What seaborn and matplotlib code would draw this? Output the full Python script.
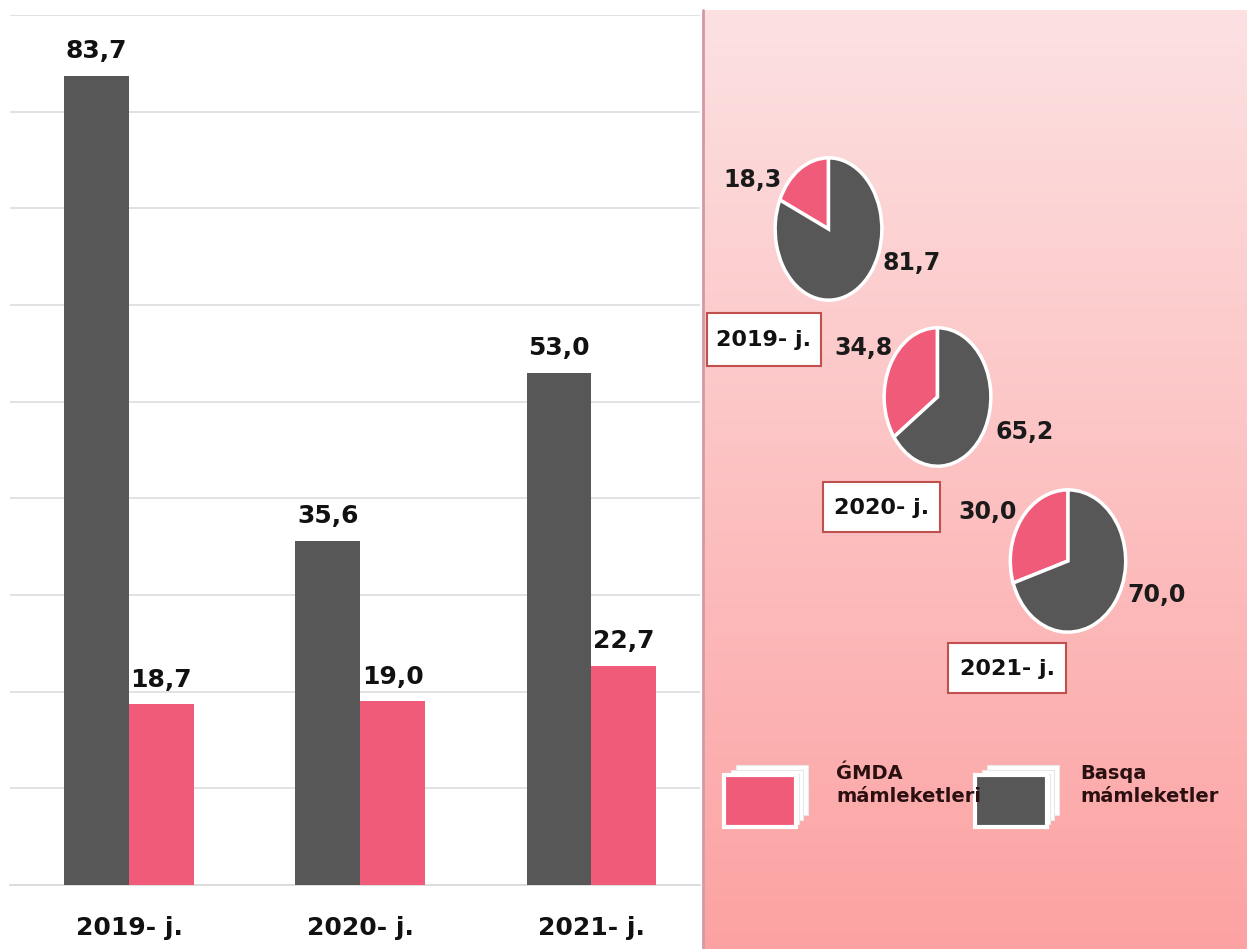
import numpy as np
import pandas as pd
import matplotlib.pyplot as plt
import matplotlib.patches as mpatches
import seaborn as sns

# data
years = ["2019- j.", "2020- j.", "2021- j."]
other_vals = [83.7, 35.6, 53.0]      # Basqa mámleketler
cis_vals = [18.7, 19.0, 22.7]        # ǴMDA mámleketleri
pie_cis = [18.3, 34.8, 30.0]         # share, %
pie_other = [81.7, 65.2, 70.0]

DARK = "#575757"
PINK = "#f05b79"
FONT = ["Liberation Sans Narrow", "DejaVu Sans Condensed", "DejaVu Sans"]

sns.set_theme(style="white")
plt.rcParams["font.family"] = FONT
plt.rcParams["font.weight"] = "bold"

W, H = 1247, 949
fig = plt.figure(figsize=(W / 100, H / 100), dpi=100)

# background overlay in pixel coordinates (pink gradient panel)
bg = fig.add_axes([0, 0, 1, 1], zorder=0)
bg.set_xlim(0, W)
bg.set_ylim(H, 0)
bg.axis("off")
top = np.array([253, 225, 226]) / 255
bot = np.array([252, 162, 162]) / 255
t = np.linspace(0, 1, 256)[:, None, None]
grad = top + (bot - top) * t
grad = np.repeat(grad, 2, axis=1)
bg.imshow(grad, extent=[703, W, H, 10], aspect="auto", zorder=0)
bg.plot([703, 703], [10, H], color="#d39aa4", lw=2, zorder=1)

# bar chart
df = pd.DataFrame({
    "year": years * 2,
    "value": other_vals + cis_vals,
    "group": ["Basqa mámleketler"] * 3 + ["ǴMDA mámleketleri"] * 3,
})
ax = fig.add_axes([10 / W, (H - 885) / H, 690 / W, 870 / H], zorder=1)
sns.barplot(data=df, x="year", y="value", hue="group",
            palette=[DARK, PINK], width=0.56, gap=0, saturation=1,
            linewidth=0, legend=False, ax=ax, zorder=3)
ax.set_ylim(0, 90)
ax.set_xlim(-0.515, 2.47)
ax.set_yticks(np.arange(0, 91, 10))
ax.set_yticklabels([])
ax.grid(axis="y", color="#dddddd", lw=1.2, zorder=0)
ax.set_xlabel("")
ax.set_ylabel("")
for s in ["top", "right", "left"]:
    ax.spines[s].set_visible(False)
ax.spines["bottom"].set_color("#d9d9d9")
ax.tick_params(axis="x", length=0, pad=22, labelsize=18, labelcolor="#111111")
for lbl in ax.get_xticklabels():
    lbl.set_fontweight("bold")
for cont in ax.containers:
    ax.bar_label(cont, labels=[f"{v:.1f}".replace(".", ",") for v in cont.datavalues],
                 padding=9, fontsize=18, fontweight="bold", color="#111111")

# pies (slightly elliptical)
pie_boxes = [(773, 155, 111, 148), (882, 325, 111, 144), (1008, 487, 120, 148)]
for (x0, y0, w, h), a, b in zip(pie_boxes, pie_cis, pie_other):
    pax = fig.add_axes([x0 / W, (H - y0 - h) / H, w / W, h / H], zorder=2)
    pax.pie([a, b], colors=[PINK, DARK], startangle=90, counterclock=True,
            wedgeprops=dict(edgecolor="white", linewidth=2.5))
    pax.set_aspect("auto")
    pax.set_xlim(-1.04, 1.04)
    pax.set_ylim(-1.04, 1.04)
    pax.axis("off")

# pie value labels
lab_pos = [((752, 180), (912, 263)), ((863, 348), (1025, 432)), ((988, 512), (1157, 595))]
for (p1, p2), a, b in zip(lab_pos, pie_cis, pie_other):
    bg.text(*p1, f"{a:.1f}".replace(".", ","), fontsize=17, fontweight="bold",
            ha="center", va="center", color="#1a1a1a", zorder=3)
    bg.text(*p2, f"{b:.1f}".replace(".", ","), fontsize=17, fontweight="bold",
            ha="center", va="center", color="#1a1a1a", zorder=3)

# year boxes
box_pos = [(707, 313, 114, 53), (823, 482, 117, 50), (948, 643, 118, 50)]
for (x0, y0, w, h), yr in zip(box_pos, years):
    bg.add_patch(mpatches.Rectangle((x0, y0), w, h, facecolor="white",
                                    edgecolor="#c0504d", lw=1.5, zorder=3))
    bg.text(x0 + w / 2, y0 + h / 2 + 1, yr, fontsize=16, fontweight="bold",
            ha="center", va="center", color="#111111", zorder=4)


# legend swatches (stacked cards look)
def swatch(x0, y0, color):
    for dx in (12, 7, 3):
        bg.add_patch(mpatches.Rectangle((x0 + dx, y0 - dx + 2), 72, 50,
                                        facecolor="white", edgecolor="#e8e8e8",
                                        lw=0.8, zorder=3))
    bg.add_patch(mpatches.Rectangle((x0, y0), 72, 52, facecolor=color,
                                    edgecolor="white", lw=3, zorder=4))


swatch(724, 775, PINK)
swatch(975, 775, DARK)
bg.text(836, 785, "ǴMDA\nmámleketleri", fontsize=14, fontweight="bold",
        ha="left", va="center", color="#2a1010", linespacing=1.25, zorder=4)
bg.text(1080, 785, "Basqa\nmámleketler", fontsize=14, fontweight="bold",
        ha="left", va="center", color="#2a1010", linespacing=1.25, zorder=4)

fig.savefig("out.png", dpi=100)
